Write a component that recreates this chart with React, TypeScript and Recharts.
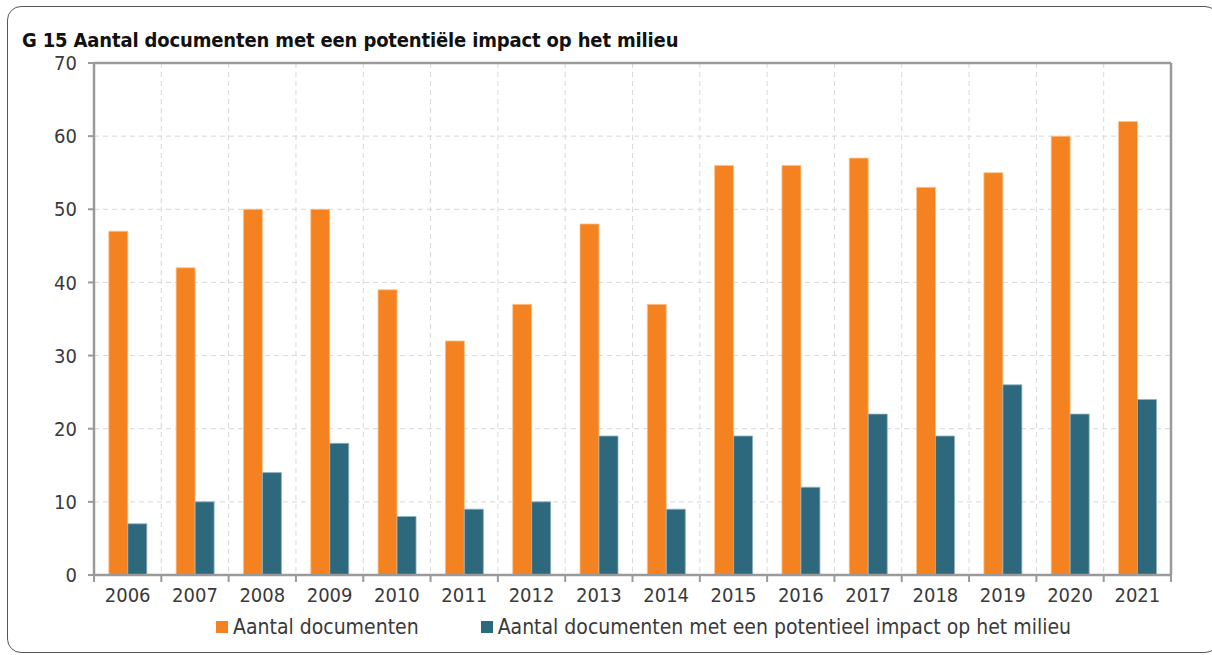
import { BarChart, Bar, XAxis, YAxis, CartesianGrid, Legend, ReferenceLine } from "recharts";

// values
const years = ["2006", "2007", "2008", "2009", "2010", "2011", "2012", "2013", "2014", "2015", "2016", "2017", "2018", "2019", "2020", "2021"];
const documents = [47, 42, 50, 50, 39, 32, 37, 48, 37, 56, 56, 57, 53, 55, 60, 62];
const withImpact = [7, 10, 14, 18, 8, 9, 10, 19, 9, 19, 12, 22, 19, 26, 22, 24];
const yTicks = [0, 10, 20, 30, 40, 50, 60, 70];

const SERIES_A = "Aantal documenten";
const SERIES_B = "Aantal documenten met een potentieel impact op het milieu";

const data = years.map((year, i) => ({ year, [SERIES_A]: documents[i], [SERIES_B]: withImpact[i] }));

const ORANGE = "#F58220";
const BLUE = "#2E687D";
const AXIS = "#9a9a9a";
const GRID = "#d9d9d9";
const TEXT = "#3a3a3a";
const FONT = "'DejaVu Sans Condensed', 'DejaVu Sans', sans-serif";

const CHART_W = 1196;
const CHART_H = 639;
const Y_AXIS_W = 86;
const RIGHT_W = 33;
const PLOT_W = CHART_W - Y_AXIS_W - RIGHT_W;
const BAND = PLOT_W / years.length;

const YearTick = (props: any) => {
  const { x, y, payload, index } = props;
  const left = x - BAND / 2;
  return (
    <g>
      <line x1={left} y1={y} x2={left} y2={y + 7} stroke={AXIS} strokeWidth={2} />
      {index === years.length - 1 && (
        <line x1={x + BAND / 2} y1={y} x2={x + BAND / 2} y2={y + 7} stroke={AXIS} strokeWidth={2} />
      )}
      <text x={x} y={y + 13} dy="0.71em" textAnchor="middle" fill={TEXT} fontSize={20} fontFamily={FONT}>
        {payload.value}
      </text>
    </g>
  );
};

const LegendBox = (props: any) => {
  const { payload } = props;
  return (
    <div style={{ height: 40, display: "flex", alignItems: "center", gap: 62, paddingLeft: 208, fontFamily: FONT, fontSize: 21, color: TEXT }}>
      {payload.map((p: any) => (
        <div key={p.value} style={{ display: "flex", alignItems: "center", gap: 5 }}>
          <div style={{ width: 12, height: 12, background: p.color }} />
          <span>{p.value}</span>
        </div>
      ))}
    </div>
  );
};

export default function App() {
  return (
    <div style={{ position: "absolute", left: 0, top: 0, width: 1212, height: 655, overflow: "hidden" }}>
      <div
        style={{
          position: "absolute",
          left: 7,
          top: 6,
          width: 1212,
          height: 647,
          border: "1.5px solid #555",
          borderRadius: 14,
          boxSizing: "border-box",
        }}
      />
      <div
        style={{
          position: "absolute",
          left: 22,
          top: 30,
          fontFamily: FONT,
          fontWeight: "bold",
          fontSize: 20,
          lineHeight: "20px",
          letterSpacing: -0.15,
          color: "#111",
          whiteSpace: "nowrap",
        }}
      >
        G 15 Aantal documenten met een potentiële impact op het milieu
      </div>
      <div style={{ position: "absolute", left: 8, top: 8 }}>
        <BarChart
          width={CHART_W}
          height={CHART_H}
          data={data}
          margin={{ top: 55, right: 0, left: 0, bottom: 0 }}
          barCategoryGap="22%"
          barGap={0}
        >
          <CartesianGrid
            stroke={GRID}
            strokeDasharray="5 4"
            verticalCoordinatesGenerator={({ offset }: any) =>
              years.slice(1).map((_, i) => offset.left + ((i + 1) * offset.width) / years.length)
            }
          />
          <XAxis
            dataKey="year"
            tick={<YearTick />}
            tickLine={false}
            tickSize={0}
            tickMargin={0}
            height={32}
            interval={0}
            axisLine={{ stroke: AXIS, strokeWidth: 2.5 }}
          />
          <YAxis
            domain={[0, 70]}
            ticks={yTicks}
            interval={0}
            width={Y_AXIS_W}
            tickSize={6}
            tickMargin={11}
            tick={{ fill: TEXT, fontSize: 20, fontFamily: FONT }}
            tickLine={{ stroke: AXIS, strokeWidth: 2 }}
            axisLine={{ stroke: AXIS, strokeWidth: 2.5 }}
          />
          <YAxis
            yAxisId="right"
            orientation="right"
            domain={[0, 70]}
            width={RIGHT_W}
            tick={false}
            tickLine={false}
            axisLine={{ stroke: AXIS, strokeWidth: 2.5 }}
          />
          <ReferenceLine y={70} stroke={AXIS} strokeWidth={2.5} />
          <Legend verticalAlign="bottom" content={<LegendBox />} />
          <Bar dataKey={SERIES_A} fill={ORANGE} stroke="#fbc48f" strokeWidth={0.8} isAnimationActive={false} />
          <Bar dataKey={SERIES_B} fill={BLUE} stroke="#8fb2c0" strokeWidth={0.8} isAnimationActive={false} />
        </BarChart>
      </div>
    </div>
  );
}
